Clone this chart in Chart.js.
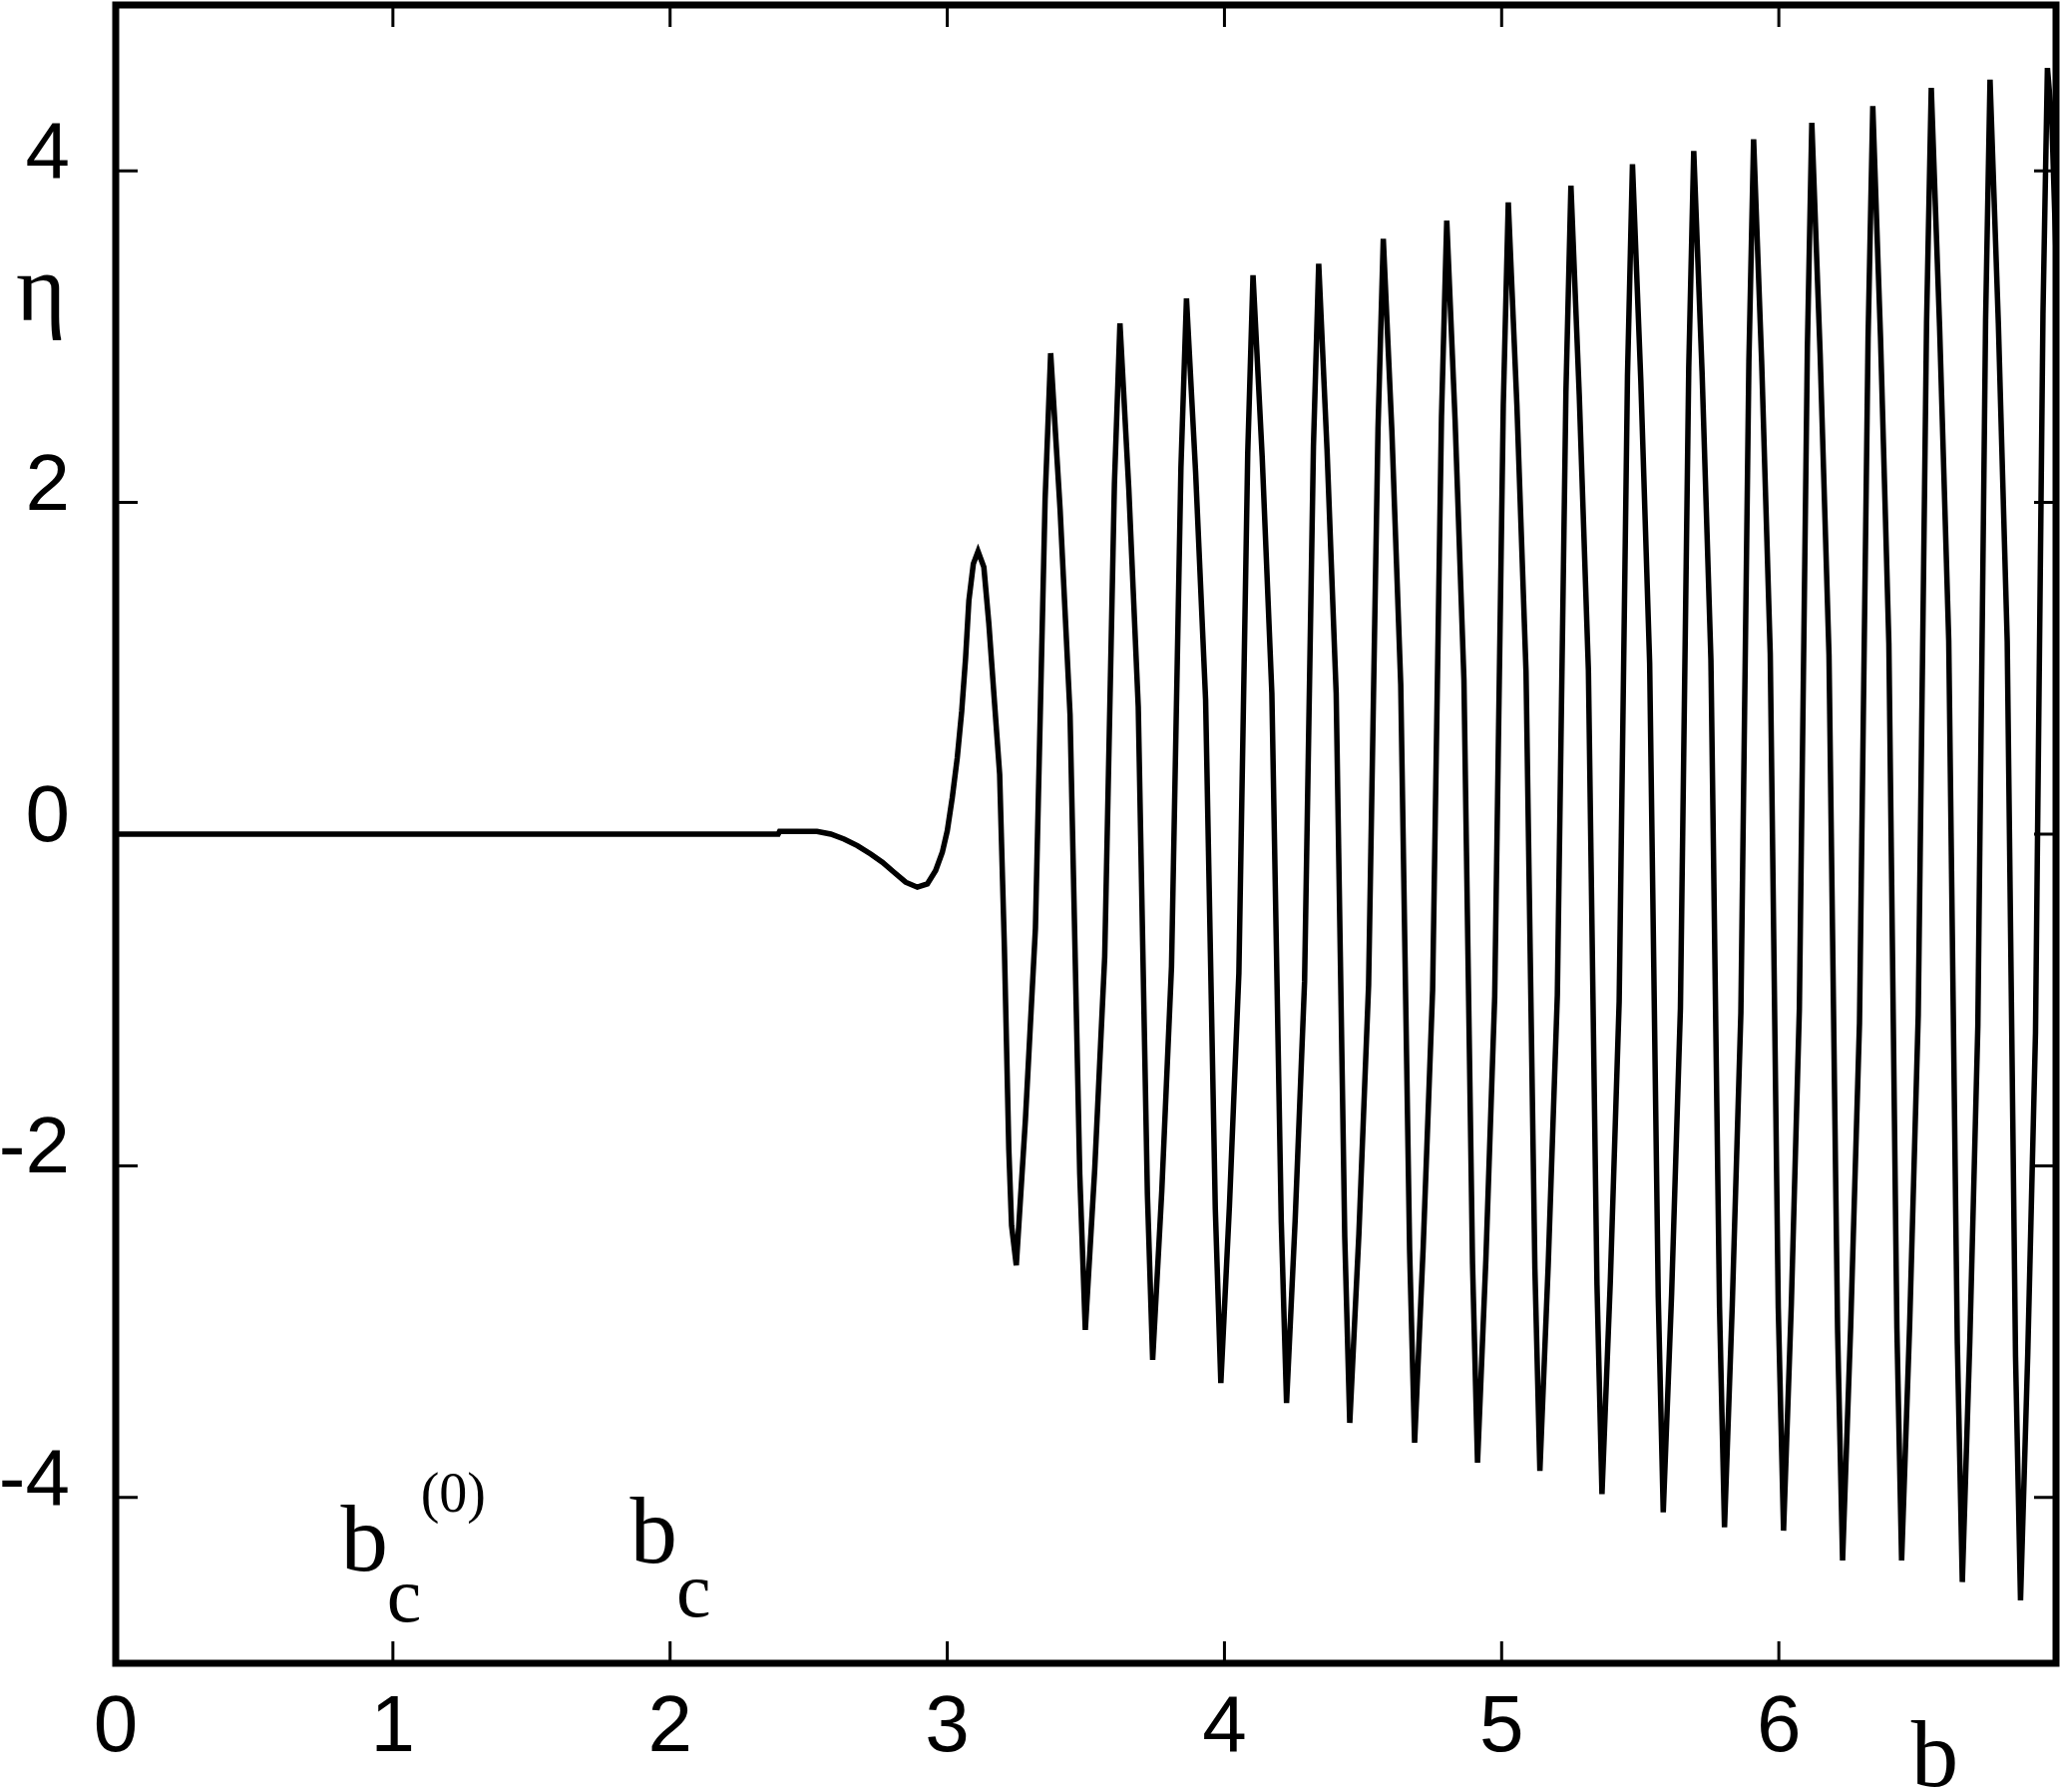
<!DOCTYPE html>
<html>
<head>
<meta charset="utf-8">
<title>eta vs b</title>
<script src="https://cdn.jsdelivr.net/npm/chart.js@4.4.1/dist/chart.umd.min.js"></script>
<style>
  html, body { margin: 0; padding: 0; background: #fff; }
  #wrap { width: 2066px; height: 1796px; }
</style>
</head>
<body>
<div id="wrap"><canvas id="eta-chart"></canvas></div>
<script>
// flat part and the first slow dip / bump
const approachB = [
  0, 2.39, 2.395, 2.53, 2.58, 2.628, 2.676, 2.724, 2.766, 2.808, 2.85, 2.892,
  2.928, 2.958, 2.982, 3.0, 3.018, 3.036, 3.052, 3.066, 3.078, 3.094, 3.111,
  3.132, 3.15, 3.171, 3.189, 3.206, 3.222, 3.232, 3.249
];
const approachEta = [
  0, 0, 0.016, 0.016, 0, -0.03, -0.07, -0.12, -0.17, -0.23, -0.29, -0.32,
  -0.30, -0.22, -0.11, 0.02, 0.22, 0.46, 0.74, 1.06, 1.41, 1.63, 1.705,
  1.61, 1.27, 0.78, 0.36, -0.68, -1.9, -2.36, -2.60
];

// oscillating part, one row per half swing (ends on the peak / trough)
const oscB = [
  3.282, 3.318, 3.353, 3.373,
  3.407, 3.443, 3.478, 3.498,
  3.532, 3.568, 3.603, 3.623,
  3.655, 3.689, 3.722, 3.741,
  3.774, 3.809, 3.843, 3.863,
  3.896, 3.932, 3.967, 3.987,
  4.018, 4.052, 4.084, 4.103,
  4.136, 4.171, 4.205, 4.224,
  4.255, 4.289, 4.321, 4.340,
  4.370, 4.403, 4.434, 4.452,
  4.485, 4.520, 4.554, 4.573,
  4.604, 4.636, 4.668, 4.686,
  4.717, 4.751, 4.783, 4.802,
  4.832, 4.864, 4.895, 4.913,
  4.943, 4.975, 5.006, 5.024,
  5.055, 5.088, 5.120, 5.138,
  5.168, 5.201, 5.232, 5.250,
  5.280, 5.313, 5.344, 5.362,
  5.392, 5.424, 5.454, 5.472,
  5.502, 5.534, 5.565, 5.583,
  5.613, 5.645, 5.675, 5.693,
  5.723, 5.755, 5.786, 5.804,
  5.832, 5.863, 5.892, 5.909,
  5.938, 5.969, 5.998, 6.017,
  6.045, 6.074, 6.103, 6.119,
  6.149, 6.181, 6.212, 6.230,
  6.259, 6.291, 6.322, 6.339,
  6.367, 6.397, 6.426, 6.443,
  6.472, 6.503, 6.533, 6.550,
  6.580, 6.613, 6.644, 6.662,
  6.689, 6.718, 6.746, 6.762,
  6.792, 6.824, 6.854, 6.872,
  6.898, 6.926, 6.953, 6.969,
  6.985, 7.0
];
const oscEta = [
  -1.72, -0.57, 2.02, 2.90,
  1.96, 0.72, -2.05, -2.99,
  -2.02, -0.74, 2.11, 3.08,
  2.08, 0.77, -2.17, -3.17,
  -2.15, -0.80, 2.21, 3.23,
  2.18, 0.81, -2.26, -3.31,
  -2.24, -0.84, 2.30, 3.37,
  2.28, 0.85, -2.34, -3.43,
  -2.33, -0.89, 2.34, 3.44,
  2.32, 0.85, -2.43, -3.55,
  -2.41, -0.91, 2.45, 3.59,
  2.43, 0.90, -2.51, -3.67,
  -2.49, -0.94, 2.52, 3.70,
  2.50, 0.93, -2.59, -3.79,
  -2.57, -0.98, 2.59, 3.81,
  2.59, 0.98, -2.62, -3.84,
  -2.60, -0.97, 2.67, 3.91,
  2.65, 0.99, -2.72, -3.98,
  -2.70, -1.01, 2.76, 4.04,
  2.74, 1.03, -2.79, -4.09,
  -2.78, -1.05, 2.81, 4.12,
  2.79, 1.05, -2.85, -4.18,
  -2.84, -1.08, 2.85, 4.19,
  2.85, 1.09, -2.86, -4.20,
  -2.84, -1.06, 2.93, 4.29,
  2.90, 1.08, -2.99, -4.38,
  -2.98, -1.14, 2.99, 4.39,
  2.99, 1.15, -2.98, -4.38,
  -2.96, -1.09, 3.08, 4.50,
  3.06, 1.17, -3.07, -4.51,
  -3.06, -1.16, 3.10, 4.55,
  3.08, 1.16, -3.15, -4.62,
  -3.14, -1.20, 3.14, 4.62,
  4.30, 3.50
];

const xTicks = [0, 1, 2, 3, 4, 5, 6];
const yTicks = [-4, -2, 0, 2, 4];

const bAll = approachB.concat(oscB);
const etaAll = approachEta.concat(oscEta);
const points = bAll.map((b, i) => ({ x: b, y: etaAll[i] }));

const serif = '"Liberation Serif", "Times New Roman", serif';

// box, inward tick marks on all four sides, and the math labels
const framePlugin = {
  id: 'frame',
  afterDatasetsDraw(chart) {
    const { ctx, chartArea: a, scales: { x, y } } = chart;
    ctx.save();
    ctx.strokeStyle = '#000';
    ctx.fillStyle = '#000';

    ctx.lineWidth = 3;
    ctx.beginPath();
    xTicks.forEach(v => {
      const px = x.getPixelForValue(v);
      ctx.moveTo(px, a.bottom); ctx.lineTo(px, a.bottom - 22);
      ctx.moveTo(px, a.top); ctx.lineTo(px, a.top + 22);
    });
    yTicks.forEach(v => {
      const py = y.getPixelForValue(v);
      ctx.moveTo(a.left, py); ctx.lineTo(a.left + 22, py);
      ctx.moveTo(a.right, py); ctx.lineTo(a.right - 22, py);
    });
    ctx.stroke();

    ctx.lineWidth = 7;
    ctx.strokeRect(a.left, a.top, a.right - a.left, a.bottom - a.top);

    ctx.textBaseline = 'alphabetic';
    ctx.textAlign = 'left';
    // b_c^(0)
    ctx.font = '95px ' + serif;
    ctx.fillText('b', x.getPixelForValue(0.812), y.getPixelForValue(-4.44));
    ctx.font = '78px ' + serif;
    ctx.fillText('c', x.getPixelForValue(0.978), y.getPixelForValue(-4.75));
    ctx.font = '56px ' + serif;
    ctx.fillText('(0)', x.getPixelForValue(1.10), y.getPixelForValue(-4.085));
    // b_c
    ctx.font = '95px ' + serif;
    ctx.fillText('b', x.getPixelForValue(1.855), y.getPixelForValue(-4.39));
    ctx.font = '78px ' + serif;
    ctx.fillText('c', x.getPixelForValue(2.023), y.getPixelForValue(-4.72));

    // axis names
    ctx.font = '95px ' + serif;
    ctx.fillText('b', x.getPixelForValue(6.477), a.bottom + 123);
    ctx.textAlign = 'center';
    ctx.font = '96px ' + serif;
    ctx.fillText('η', a.left - 75, y.getPixelForValue(3.1));
    ctx.restore();
  }
};

const tickFont = { family: '"Liberation Sans", Arial, sans-serif', size: 80, lineHeight: 1.2 };

new Chart(document.getElementById('eta-chart'), {
  type: 'line',
  data: {
    datasets: [{
      data: points,
      borderColor: '#000',
      borderWidth: 5.5,
      pointRadius: 0,
      tension: 0,
      fill: false
    }]
  },
  options: {
    responsive: true,
    maintainAspectRatio: false,
    animation: false,
    devicePixelRatio: 1,
    layout: { padding: { top: 5, right: 5, left: 0, bottom: 0 } },
    plugins: { legend: { display: false }, tooltip: { enabled: false } },
    scales: {
      x: {
        type: 'linear',
        min: 0,
        max: 7,
        grid: { display: false, drawTicks: false },
        border: { display: false },
        afterBuildTicks: s => { s.ticks = xTicks.map(v => ({ value: v })); },
        afterFit: s => { s.height = 129; s.paddingLeft = 0; s.paddingRight = 0; },
        ticks: {
          color: '#000',
          font: tickFont,
          padding: 18,
          autoSkip: false,
          maxRotation: 0,
          callback: v => String(v)
        }
      },
      y: {
        min: -5,
        max: 5,
        grid: { display: false, drawTicks: false },
        border: { display: false },
        afterBuildTicks: s => { s.ticks = yTicks.map(v => ({ value: v })); },
        afterFit: s => { s.width = 116; s.paddingTop = 0; s.paddingBottom = 0; },
        ticks: {
          color: '#000',
          font: tickFont,
          padding: 46,
          labelOffset: -15,
          callback: v => String(v)
        }
      }
    }
  },
  plugins: [framePlugin]
});
</script>
</body>
</html>
